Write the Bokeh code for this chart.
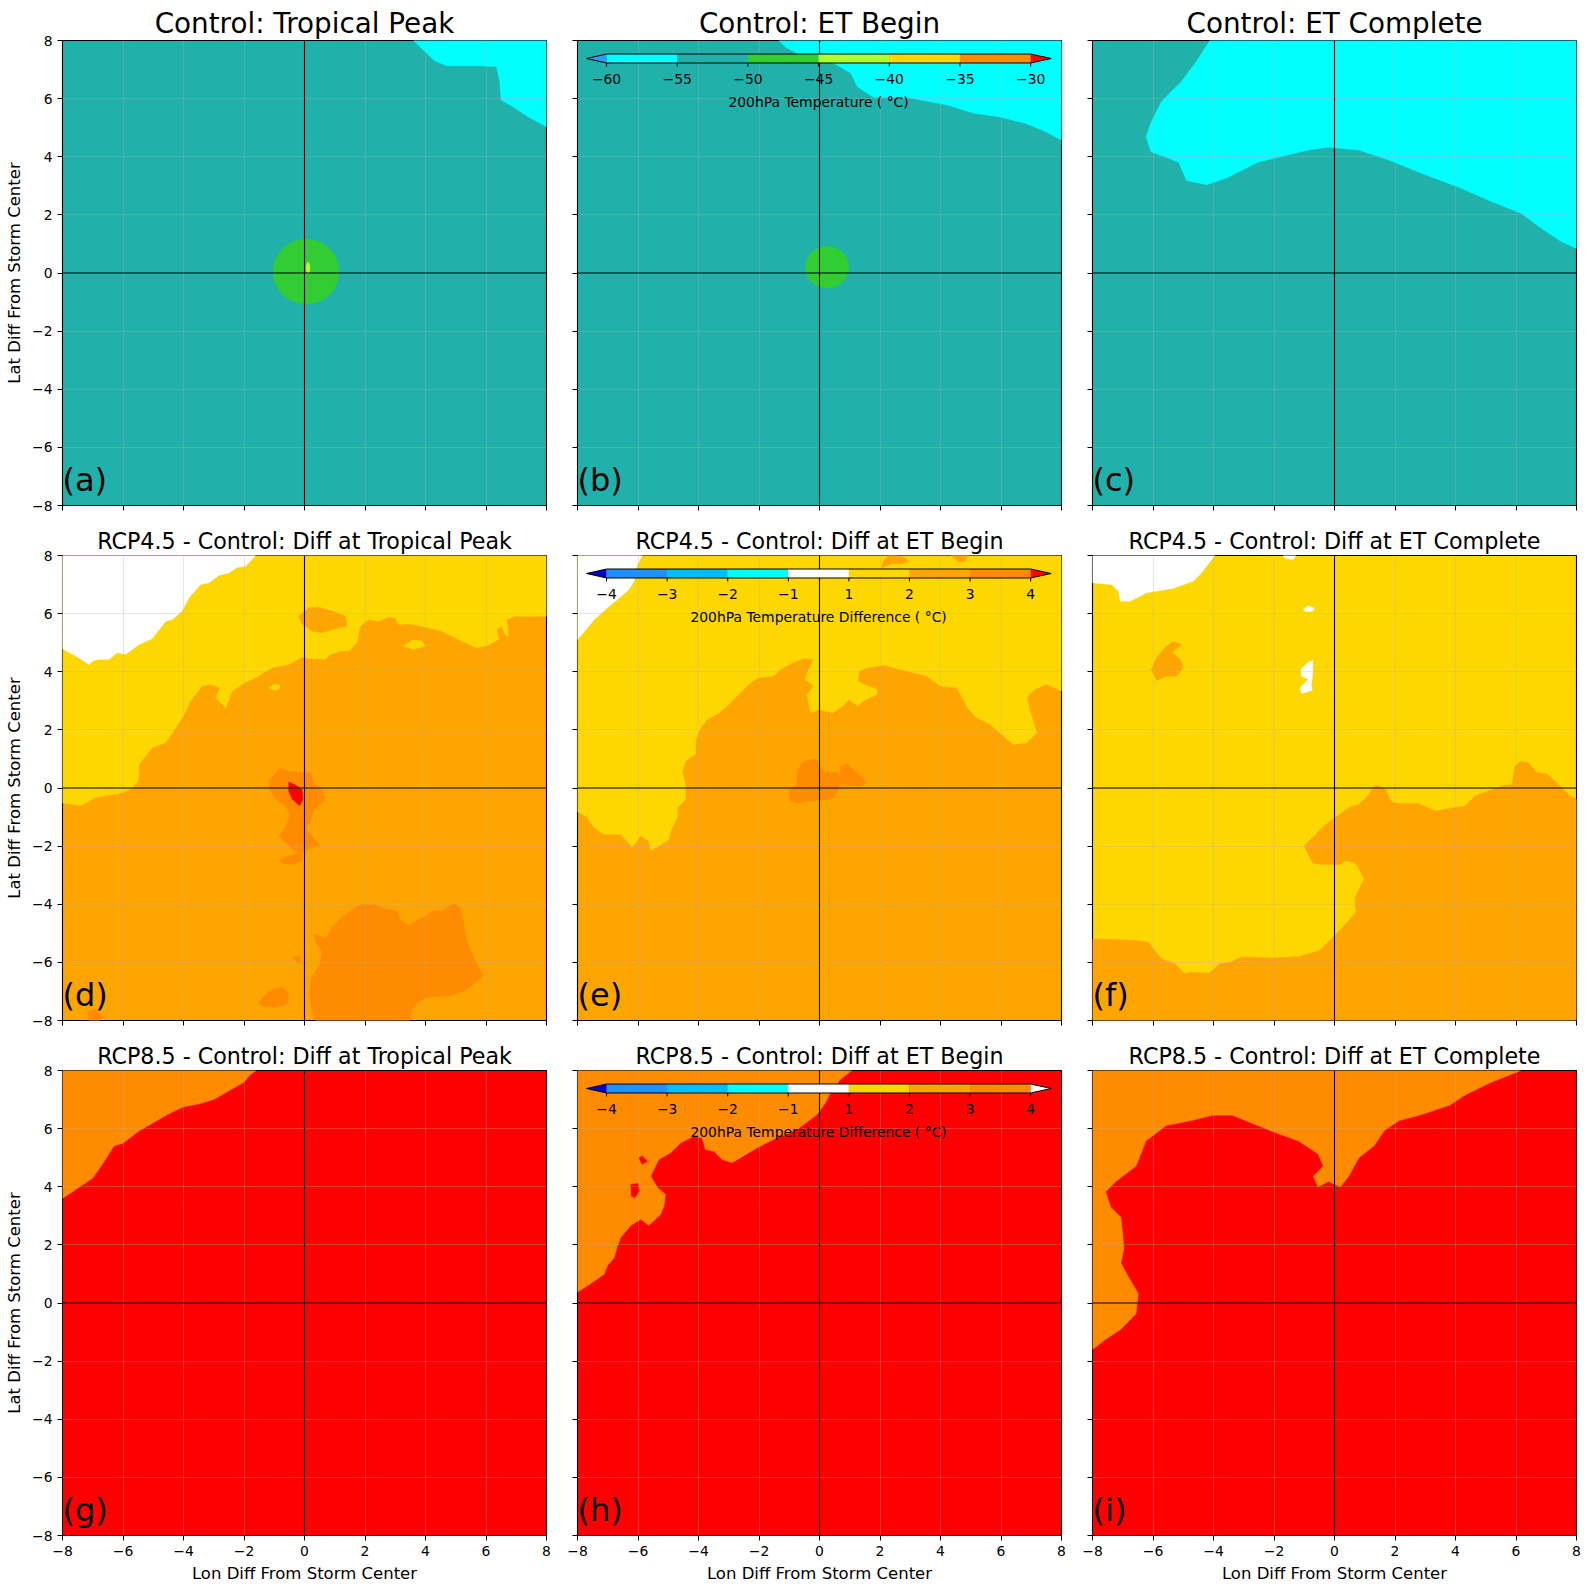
from bokeh.plotting import figure
from bokeh.layouts import gridplot
from bokeh.models import Span, Range1d
from bokeh.embed import file_html
from bokeh.resources import INLINE
from bokeh.core.properties import value

FONT = "DejaVu Sans"

# ---------------- levels / colours ----------------
TEMP_LEVELS = [-60, -55, -50, -45, -40, -35, -30]
TEMP_COLORS = ["#00ffff", "#20b2aa", "#32cd32", "#adff2f", "#ffd700", "#ff8c00"]
TEMP_UNDER = "#2a9df4"
TEMP_OVER = "#ff0000"
DIFF_LEVELS = [-4, -3, -2, -1, 1, 2, 3, 4]
DIFF_COLORS = ["#1e90ff", "#00bfff", "#00ffff", "#ffffff", "#ffd700", "#ffa500", "#ff8c00"]
DIFF_UNDER = "#0000cd"
DIFF_OVER = "#ff0000"
DIFF_OVER_H = "#ffffff"

AXIS_TICKS = [-8, -6, -4, -2, 0, 2, 4, 6, 8]

ROW_TITLES = [
    ["Control: Tropical Peak", "Control: ET Begin", "Control: ET Complete"],
    ["RCP4.5 - Control: Diff at Tropical Peak", "RCP4.5 - Control: Diff at ET Begin",
     "RCP4.5 - Control: Diff at ET Complete"],
    ["RCP8.5 - Control: Diff at Tropical Peak", "RCP8.5 - Control: Diff at ET Begin",
     "RCP8.5 - Control: Diff at ET Complete"],
]
PANEL_TAGS = [["(a)", "(b)", "(c)"], ["(d)", "(e)", "(f)"], ["(g)", "(h)", "(i)"]]

# ---------------- (a) Control: Tropical Peak ----------------
a_bg = -52.5
a_cold_val = -57.5
a_cold_lon = [3.6, 3.9, 4.3, 4.7, 5.7, 6.35, 6.45, 6.5, 6.85, 7.35, 8.0, 8.0]
a_cold_lat = [8.0, 7.7, 7.3, 7.13, 7.13, 7.1, 6.6, 5.95, 5.75, 5.4, 5.03, 8.0]
a_core_val = [-47.5, -42.5]
a_core_lon = [0.05, 0.12]
a_core_lat = [0.05, 0.18]
a_core_w = [2.2, 0.14]
a_core_h = [2.25, 0.4]

# ---------------- (b) Control: ET Begin ----------------
b_bg = -52.5
b_cold_val = -57.5
b_cold_lon = [-1.34, -1.1, -0.6, 0.0, 0.47, 1.03, 1.26, 1.79, 3.01, 4.23, 5.1, 5.98, 6.8, 7.4, 8.0, 8.0]
b_cold_lat = [8.0, 7.75, 7.5, 7.35, 7.22, 6.88, 6.4, 6.05, 6.02, 5.78, 5.5, 5.37, 5.15, 4.9, 4.58, 8.0]
b_core_val = [-47.5]
b_core_lon = [0.25]
b_core_lat = [0.2]
b_core_w = [1.45]
b_core_h = [1.45]

# ---------------- (c) Control: ET Complete ----------------
c_bg = -52.5
c_cold_val = -57.5
c_cold_lon = [-4.12, -4.55, -5.05, -5.72, -6.06, -6.23, -6.06, -5.56, -5.15, -4.89, -4.22, -3.55, -2.54,
              -1.87, -0.87, -0.2, 0.8, 1.81, 2.81, 4.15, 5.15, 6.16, 6.83, 7.5, 8.0, 8.0]
c_cold_lat = [8.0, 7.3, 6.6, 5.9, 5.2, 4.68, 4.16, 3.98, 3.81, 3.18, 3.04, 3.28, 3.81,
              3.98, 4.23, 4.33, 4.23, 3.88, 3.46, 2.93, 2.48, 2.06, 1.54, 1.08, 0.84, 8.0]

# ---------------- (d) RCP4.5 diff, Tropical Peak ----------------
d_bg = 2.5
d_gold_lon = [-8, -7.4, -6.9, -6.0, -5.7, -5.5, -5.47, -5.03, -4.6, -4.37, -4.04, -3.77, -3.38, -3.1, -2.78,
              -2.94, -2.6, -2.39, -2.06, -1.62, -1.07, -0.52, -0.08, 0.14, 0.69, 0.85, 1.18, 1.46, 1.73, 1.84,
              2.12, 2.45, 2.78, 3.0, 3.11, 3.44, 3.99, 4.54, 5.2, 5.69, 6.02, 6.41, 6.36, 6.52, 6.63, 6.74,
              6.68, 6.96, 8, 8, -8]
d_gold_lat = [-0.52, -0.6, -0.33, -0.16, 0, 0.24, 0.82, 1.39, 1.56, 1.9, 2.42, 3.0, 3.51, 3.57, 3.45,
              3.1, 2.77, 3.34, 3.57, 3.8, 4.14, 4.25, 4.51, 4.46, 4.43, 4.6, 4.71, 4.71, 5.0, 5.57,
              5.8, 5.74, 5.88, 5.86, 5.63, 5.65, 5.54, 5.4, 5.06, 4.83, 4.89, 5.11, 5.46, 5.57, 5.29, 5.23,
              5.8, 5.91, 5.91, 8, 8]
d_white_lon = [-8, -7.56, -7.12, -7.01, -6.8, -6.46, -6.19, -5.91, -5.47, -5.03, -4.76, -4.59, -4.37, -4.04,
               -3.82, -3.44, -3.16, -2.83, -2.5, -2.22, -1.95, -1.62, -8]
d_white_lat = [4.79, 4.54, 4.25, 4.37, 4.43, 4.43, 4.66, 4.6, 4.94, 5.15, 5.51, 5.74, 5.8, 6.11,
               6.55, 7.0, 7.06, 7.32, 7.4, 7.6, 7.63, 8, 8]
d_warm_lon = [-0.19, 0.14, 0.47, 0.91, 1.35, 1.4, 1.02, 0.58, 0.25, -0.08]
d_warm_lat = [5.92, 6.2, 6.22, 6.09, 5.92, 5.57, 5.49, 5.34, 5.4, 5.65]
d_isl1_lon = [3.27, 3.55, 3.88, 3.99, 3.6]
d_isl1_lat = [4.88, 5.08, 5.06, 4.88, 4.77]
d_isl2_lon = [-1.18, -0.96, -0.8, -0.85, -1.07]
d_isl2_lat = [3.45, 3.59, 3.53, 3.4, 3.37]
d_hot1_lon = [-1.18, -0.8, -0.52, -0.08, 0.2, 0.31, 0.58, 0.69, 0.47, 0.25, 0.2, 0.03, 0.25, 0.52, 0.25,
              -0.08, -0.08, -0.36, -0.63, -0.85, -0.52, -0.19, -0.47, -0.85, -0.63, -0.47, -0.63, -0.96, -1.13]
d_hot1_lat = [0.24, 0.69, 0.58, 0.53, 0.53, 0.18, -0.05, -0.39, -0.61, -0.84, -1.18, -1.36, -1.64, -1.99, -2.04,
              -2.22, -2.5, -2.62, -2.62, -2.5, -2.33, -2.27, -2.04, -1.64, -1.36, -0.9, -0.61, -0.38, -0.1]
d_hot2_lon = [0.36, 0.69, 0.91, 1.35, 1.9, 2.34, 2.67, 3.05, 3.16, 3.44, 3.93, 4.26, 4.54, 4.87, 4.98, 5.14,
              5.25, 5.36, 5.64, 5.91, 5.69, 5.31, 4.87, 4.1, 3.72, 3.55, 3.49, 0.36, 0.25, 0.14, 0.25, 0.52,
              0.58, 0.41, 0.31]
d_hot2_lat = [-5.02, -5.19, -4.79, -4.34, -3.99, -4.02, -4.16, -4.22, -4.51, -4.73, -4.45, -4.22, -4.24, -4.02,
              -3.97, -4.14, -4.57, -5.25, -5.94, -6.46, -6.68, -6.97, -7.14, -7.2, -7.37, -7.66, -8, -8, -7.66,
              -7.08, -6.51, -6.05, -5.6, -5.37, -5.14]
d_hot3_lon = [-1.51, -1.18, -0.74, -0.52, -0.58, -0.96, -1.4]
d_hot3_lat = [-7.37, -6.97, -6.85, -7.08, -7.43, -7.54, -7.49]
d_hot4_lon = [-0.36, -0.14, -0.14, -0.25]
d_hot4_lat = [-5.82, -5.76, -6.05, -6.0]
d_hot5_lon = [-7.18, -6.9, -6.68, -6.79, -7.12]
d_hot5_lat = [-7.71, -7.6, -7.89, -8, -8]
d_max_lon = [-0.52, -0.3, -0.08, -0.05, -0.16, -0.41, -0.52]
d_max_lat = [0.21, 0.1, -0.05, -0.38, -0.61, -0.38, -0.1]

# ---------------- (e) RCP4.5 diff, ET Begin ----------------
e_bg = 2.5
e_gold_lon = [-8, -7.72, -7.45, -7.12, -6.57, -6.19, -5.91, -5.64, -5.58, -5.31, -4.98, -4.92, -4.7, -4.7,
              -4.43, -4.43, -4.54, -4.43, -4.1, -4.1, -3.93, -3.71, -3.38, -3.05, -2.72, -2.28, -2.01, -1.51,
              -1.29, -0.91, -0.52, -0.19, -0.36, -0.47, -0.19, -0.41, -0.3, 0, 0.44, 0.77, 0.98, 1.26, 1.46,
              1.9, 1.9, 1.46, 1.26, 1.32, 1.6, 2.12, 2.67, 3.55, 3.99, 4.54, 4.93, 5.2, 5.64, 6.08, 6.41, 6.85,
              7.18, 6.96, 6.85, 7.12, 7.5, 8, 8, -8]
e_gold_lat = [-0.82, -0.96, -1.36, -1.59, -1.59, -2.04, -1.64, -1.82, -2.14, -2.0, -1.76, -1.47, -1.02, -0.68,
              -0.4, 0.13, 0.53, 0.93, 1.16, 1.62, 2.08, 2.36, 2.54, 2.82, 3.17, 3.62, 3.8, 3.86,
              4.08, 4.31, 4.46, 4.43, 4.08, 3.74, 3.51, 3.22, 2.59, 2.7, 2.59, 2.82, 3.05, 2.82, 3.0,
              3.22, 3.4, 3.57, 3.68, 4.03, 4.14, 4.23, 4.08, 3.85, 3.51, 3.45, 2.7, 2.42, 2.19, 1.79, 1.5, 1.56,
              1.9, 2.65, 3.11, 3.4, 3.57, 3.34, 8, 8]
e_white_lon = [-8, -7.67, -7.45, -7.01, -6.68, -6.3, -6.13, -6.02, -5.86, -8]
e_white_lat = [5.11, 5.51, 5.8, 6.2, 6.49, 6.83, 7.12, 7.69, 8, 8]
e_warm1_lon = [2.06, 2.1, 2.3, 2.5, 2.78, 2.95, 2.7, 2.4]
e_warm1_lat = [7.58, 7.8, 8.0, 8.0, 7.95, 7.8, 7.72, 7.72]
e_warm2_lon = [4.35, 4.9, 4.8, 4.6]
e_warm2_lat = [8.0, 8.0, 7.8, 7.78]
e_hot_lon = [-1.02, -0.96, -0.74, -0.74, -0.52, -0.13, 0.03, 0.2, 0.58, 0.69, 0.69, 0.91, 1.24, 1.57, 1.35,
             1.13, 0.69, 0.58, 0.36, 0, -0.41, -0.74, -0.96]
e_hot_lat = [-0.22, -0.05, 0.13, 0.59, 0.93, 0.99, 0.7, 0.53, 0.53, 0.36, 0.76, 0.82, 0.53, 0.19, 0.07,
             0.07, 0.13, -0.16, -0.39, -0.42, -0.45, -0.53, -0.45]

# ---------------- (f) RCP4.5 diff, ET Complete ----------------
f_bg = 1.5
f_warm_lon = [-8, -7.53, -6.54, -6.16, -5.99, -5.71, -5.28, -4.95, -4.78, -4.13, -3.8, -3.47, -3.08, -2.81,
              -2.04, -1.16, -0.5, 0, 0.37, 0.7, 0.68, 0.98, 0.76, 0.64, 0.37, 0.15, -0.5, -0.72, -1.0, -0.72,
              -0.34, 0.04, 0.48, 0.81, 1.14, 1.31, 1.47, 1.69, 1.86, 2.02, 2.79, 3.34, 4.0, 4.32, 4.66, 5.53,
              5.86, 5.97, 6.14, 6.41, 6.69, 7.01, 7.4, 7.73, 8, 8, -8]
f_warm_lat = [-5.2, -5.2, -5.25, -5.31, -5.54, -5.88, -6.05, -6.4, -6.34, -6.37, -6.05, -6.0, -5.82, -5.82,
              -5.85, -5.8, -5.6, -5.08, -4.68, -4.28, -3.76, -3.13, -2.68, -2.56, -2.5, -2.64, -2.62, -2.57,
              -1.99, -1.7, -1.3, -1.01, -0.67, -0.56, -0.22, 0.07, 0.07, -0.05, -0.45, -0.53, -0.54, -0.79,
              -0.67, -0.62, -0.27, 0.07, 0.13, 0.76, 0.91, 0.87, 0.53, 0.49, 0.13, -0.22, -0.39, -8, -8]
f_warm2_lon = [-6.05, -5.88, -5.55, -5.33, -5.05, -5.38, -5.1, -5.0, -5.22, -5.55, -5.88]
f_warm2_lat = [4.08, 4.48, 4.88, 5.03, 4.94, 4.66, 4.43, 4.14, 3.85, 3.85, 3.7]
f_w1_lon = [-8, -7.36, -7.14, -7.08, -6.76, -6.21, -5.33, -4.67, -4.4, -3.96, -8]
f_w1_lat = [7.06, 7.0, 6.77, 6.43, 6.43, 6.72, 6.87, 7.12, 7.4, 8, 8]
f_w2_lon = [-1.71, -1.6, -1.38, -1.27]
f_w2_lat = [8, 7.9, 7.86, 8]
f_w3_lon = [-1.03, -0.89, -0.67, -0.72, -0.94]
f_w3_lat = [6.14, 6.26, 6.2, 6.09, 6.06]
f_w4_lon = [-1.11, -0.89, -0.72, -0.72, -0.77, -0.74, -1.09, -1.14, -0.86, -1.09]
f_w4_lat = [4.08, 4.31, 4.39, 3.91, 3.57, 3.36, 3.25, 3.45, 3.74, 3.85]

# ---------------- (g) RCP8.5 diff, Tropical Peak ----------------
g_bg = 4.5
g_hot_lon = [-8, -7.5, -7.0, -6.6, -6.3, -6.0, -5.5, -5.0, -4.5, -4.0, -3.5, -3.0, -2.5, -2.0, -1.8, -1.6, -8]
g_hot_lat = [3.6, 3.95, 4.3, 4.9, 5.4, 5.5, 5.9, 6.2, 6.5, 6.75, 6.85, 7.0, 7.3, 7.6, 7.85, 8, 8]

# ---------------- (h) RCP8.5 diff, ET Begin ----------------
h_bg = 4.5
h_hot_lon = [-8, -7.67, -7.12, -7.01, -6.79, -6.68, -6.57, -6.24, -5.91, -5.64, -5.25, -5.14, -5.09, -5.36,
             -5.58, -5.31, -4.92, -4.59, -4.15, -3.88, -3.77, -3.49, -3.22, -2.89, -2.61, -2.06, -1.4, -0.74,
             -0.08, 0.2, 0.36, 0.69, 1.07, -8]
h_hot_lat = [0.38, 0.59, 0.99, 1.28, 1.56, 1.96, 2.25, 2.67, 2.88, 2.67, 3.05, 3.34, 3.74, 3.97,
             4.37, 4.94, 5.17, 5.51, 5.74, 5.68, 5.28, 5.22, 4.94, 4.83, 5.0, 5.34, 5.69, 5.97,
             6.49, 6.89, 7.23, 7.69, 8, 8]
h_isl1_lon = [-5.97, -5.86, -5.69, -5.86]
h_isl1_lat = [5.0, 5.06, 4.88, 4.77]
h_isl2_lon = [-6.24, -6.0, -5.95, -6.11, -6.22]
h_isl2_lat = [4.08, 4.11, 3.85, 3.62, 3.68]

# ---------------- (i) RCP8.5 diff, ET Complete ----------------
i_bg = 4.5
i_hot_lon = [-8, 6.16, 5.15, 4.32, 3.82, 2.81, 2.14, 1.64, 1.31, 0.8, 0.47, 0.2, -0.2, -0.54, -0.7, -0.37, -0.54,
             -1.2, -1.87, -2.54, -3.38, -4.05, -4.72, -5.56, -6.23, -6.56, -7.23, -7.56, -7.4, -7.06, -6.96,
             -7.06, -6.83, -6.49, -6.56, -7.06, -7.56, -8]
i_hot_lat = [8, 8, 7.58, 7.16, 6.81, 6.46, 6.28, 5.93, 5.41, 4.99, 4.36, 4.0, 4.18, 4.0, 4.36, 4.71, 5.13,
             5.58, 5.83, 6.11, 6.46, 6.46, 6.28, 6.11, 5.58, 4.71, 4.18, 3.83, 3.3, 2.95, 1.9,
             1.38, 0.93, 0.33, -0.37, -0.9, -1.25, -1.6]

PANELS = [
    [
        dict(kind="temp", bg=a_bg, layers=[(a_cold_val, a_cold_lon, a_cold_lat)],
             cores=(a_core_val, a_core_lon, a_core_lat, a_core_w, a_core_h), cbar=None),
        dict(kind="temp", bg=b_bg, layers=[(b_cold_val, b_cold_lon, b_cold_lat)],
             cores=(b_core_val, b_core_lon, b_core_lat, b_core_w, b_core_h), cbar="temp"),
        dict(kind="temp", bg=c_bg, layers=[(c_cold_val, c_cold_lon, c_cold_lat)], cores=None, cbar=None),
    ],
    [
        dict(kind="diff", bg=d_bg, layers=[(1.5, d_gold_lon, d_gold_lat), (0.0, d_white_lon, d_white_lat),
                                           (2.5, d_warm_lon, d_warm_lat), (1.5, d_isl1_lon, d_isl1_lat),
                                           (1.5, d_isl2_lon, d_isl2_lat), (3.5, d_hot1_lon, d_hot1_lat),
                                           (3.5, d_hot2_lon, d_hot2_lat), (3.5, d_hot3_lon, d_hot3_lat),
                                           (3.5, d_hot4_lon, d_hot4_lat), (3.5, d_hot5_lon, d_hot5_lat),
                                           (4.5, d_max_lon, d_max_lat)], cores=None, cbar=None),
        dict(kind="diff", bg=e_bg, layers=[(1.5, e_gold_lon, e_gold_lat), (0.0, e_white_lon, e_white_lat),
                                           (2.5, e_warm1_lon, e_warm1_lat), (2.5, e_warm2_lon, e_warm2_lat),
                                           (3.5, e_hot_lon, e_hot_lat)], cores=None, cbar="diff"),
        dict(kind="diff", bg=f_bg, layers=[(2.5, f_warm_lon, f_warm_lat), (2.5, f_warm2_lon, f_warm2_lat),
                                           (0.0, f_w1_lon, f_w1_lat), (0.0, f_w2_lon, f_w2_lat),
                                           (0.0, f_w3_lon, f_w3_lat), (0.0, f_w4_lon, f_w4_lat)],
             cores=None, cbar=None),
    ],
    [
        dict(kind="diff", bg=g_bg, layers=[(3.5, g_hot_lon, g_hot_lat)], cores=None, cbar=None),
        dict(kind="diff", bg=h_bg, layers=[(3.5, h_hot_lon, h_hot_lat), (4.5, h_isl1_lon, h_isl1_lat),
                                           (4.5, h_isl2_lon, h_isl2_lat)], cores=None, cbar="diff_h"),
        dict(kind="diff", bg=i_bg, layers=[(3.5, i_hot_lon, i_hot_lat)], cores=None, cbar=None),
    ],
]

# ---------------- layout constants ----------------
FRAME_W = 484
FRAME_H = 465
LEFT = [62, 16, 16]
RIGHT = [15, 15, 12]
TOP = [40, 40, 40]
BOTTOM = [10, 10, 53]
PPU_Y = FRAME_H / 16.0

CB_X0, CB_X1 = -7.04, 6.98
CB_TIPL, CB_TIPR = -7.70, 7.66
CB_TOP, CB_BOT = 7.535, 7.226


def fmt(v):
    return f"{v:g}".replace("-", "\u2212")


def band_color(v, kind):
    if kind == "temp":
        levels, colors, under, over = TEMP_LEVELS, TEMP_COLORS, TEMP_UNDER, TEMP_OVER
    else:
        levels, colors, under, over = DIFF_LEVELS, DIFF_COLORS, DIFF_UNDER, DIFF_OVER
    if v < levels[0]:
        return under
    if v > levels[-1]:
        return over
    for i in range(len(levels) - 1):
        if levels[i] <= v < levels[i + 1]:
            return colors[i]
    return colors[-1]


def add_colorbar(p, levels, colors, under, over, label):
    n = len(levels)
    xs = [CB_X0 + i * (CB_X1 - CB_X0) / (n - 1) for i in range(n)]
    mid = (CB_TOP + CB_BOT) / 2
    rs = []
    rs.append(p.quad(left=xs[:-1], right=xs[1:], bottom=CB_BOT, top=CB_TOP, fill_color=colors, line_color=None))
    rs.append(p.patch([CB_TIPL, CB_X0, CB_X0], [mid, CB_TOP, CB_BOT], fill_color=under, line_color=None))
    rs.append(p.patch([CB_TIPR, CB_X1, CB_X1], [mid, CB_TOP, CB_BOT], fill_color=over, line_color=None))
    rs.append(p.line([CB_TIPL, CB_X0, CB_X1, CB_TIPR, CB_X1, CB_X0, CB_TIPL],
                     [mid, CB_TOP, CB_TOP, mid, CB_BOT, CB_BOT, mid], line_color="black", line_width=1))
    tl = 3.5 / PPU_Y
    rs.append(p.segment(x0=xs, y0=[CB_BOT] * n, x1=xs, y1=[CB_BOT - tl] * n, line_color="black", line_width=1))
    rs.append(p.text(x=xs, y=[CB_BOT - 16.0 / PPU_Y] * n, text=[fmt(v) for v in levels],
                     text_align="center", text_baseline="middle", text_font=value(FONT),
                     text_font_size="13.9px", text_color="black"))
    rs.append(p.text(x=[(CB_X0 + CB_X1) / 2], y=[CB_BOT - 38.7 / PPU_Y], text=[label],
                     text_align="center", text_baseline="middle", text_font=value(FONT),
                     text_font_size="13.9px", text_color="black"))
    for r in rs:
        r.level = "overlay"


def build(r, c):
    spec = PANELS[r][c]
    kind = spec["kind"]
    p = figure(frame_width=FRAME_W, frame_height=FRAME_H, x_range=Range1d(-8, 8), y_range=Range1d(-8, 8),
               output_backend="svg", toolbar_location=None,
               min_border_left=LEFT[c], min_border_right=RIGHT[c],
               min_border_top=TOP[r], min_border_bottom=BOTTOM[r])
    p.background_fill_color = band_color(spec["bg"], kind)
    p.border_fill_color = "white"
    p.outline_line_color = "black"
    p.outline_line_width = 1.1

    for v, lon, lat in spec["layers"]:
        col = band_color(v, kind)
        p.patch(lon, lat, fill_color=col, line_color=col, line_width=0.5)
    if spec["cores"] is not None:
        vals, lon, lat, w, h = spec["cores"]
        cols = [band_color(v, kind) for v in vals]
        p.ellipse(x=lon, y=lat, width=w, height=h, fill_color=cols, line_color=None)

    # title
    p.title.text = ROW_TITLES[r][c]
    p.title.align = "center"
    p.title.text_font = FONT
    p.title.text_font_style = "normal"
    p.title.text_color = "black"
    p.title.text_font_size = "27.8px" if r == 0 else "22.2px"
    p.title.standoff = 2 if r == 0 else 4

    # axes
    for ax, show in ((p.xaxis[0], r == 2), (p.yaxis[0], c == 0)):
        ax.ticker = AXIS_TICKS
        ax.major_label_overrides = {t: (fmt(t) if show else "") for t in AXIS_TICKS}
        ax.major_tick_out = 5
        ax.major_tick_in = 0
        ax.major_tick_line_width = 1
        ax.major_tick_line_color = "black"
        ax.minor_tick_line_color = None
        ax.axis_line_color = None
        ax.major_label_text_font = FONT
        ax.major_label_text_font_size = "13.9px"
        ax.major_label_text_color = "black"
        ax.major_label_standoff = 5
        ax.axis_label_text_font = FONT
        ax.axis_label_text_font_size = "16.5px"
        ax.axis_label_text_font_style = "normal"
        ax.axis_label_text_color = "black"
        ax.axis_label_standoff = 5
    if r == 2:
        p.xaxis.axis_label = "Lon Diff From Storm Center"
    if c == 0:
        p.yaxis.axis_label = "Lat Diff From Storm Center"

    p.grid.ticker = AXIS_TICKS
    p.grid.grid_line_color = "#b0b0b0"
    p.grid.grid_line_alpha = 0.3
    p.grid.grid_line_width = 1.1
    p.grid.level = "guide"

    p.add_layout(Span(location=0, dimension="height", line_color="black", line_width=1.1))
    p.add_layout(Span(location=0, dimension="width", line_color="black", line_width=1.1))

    if spec["cbar"] == "temp":
        add_colorbar(p, TEMP_LEVELS, TEMP_COLORS, TEMP_UNDER, TEMP_OVER, "200hPa Temperature ( \u00b0C)")
    elif spec["cbar"] == "diff":
        add_colorbar(p, DIFF_LEVELS, DIFF_COLORS, DIFF_UNDER, DIFF_OVER, "200hPa Temperature Difference ( \u00b0C)")
    elif spec["cbar"] == "diff_h":
        add_colorbar(p, DIFF_LEVELS, DIFF_COLORS, DIFF_UNDER, DIFF_OVER_H,
                     "200hPa Temperature Difference ( \u00b0C)")

    tag = p.text(x=[-8], y=[-8 + 7.0 / PPU_Y], text=[PANEL_TAGS[r][c]], text_align="left",
                 text_baseline="bottom", text_font=value(FONT), text_font_size="32px", text_color="black",
                 x_offset=0)
    tag.level = "overlay"
    return p


figs = [[build(r, c) for c in range(3)] for r in range(3)]
grid = gridplot(figs, toolbar_location=None)

with open("out.html", "w") as fh:
    fh.write(file_html(grid, INLINE))
